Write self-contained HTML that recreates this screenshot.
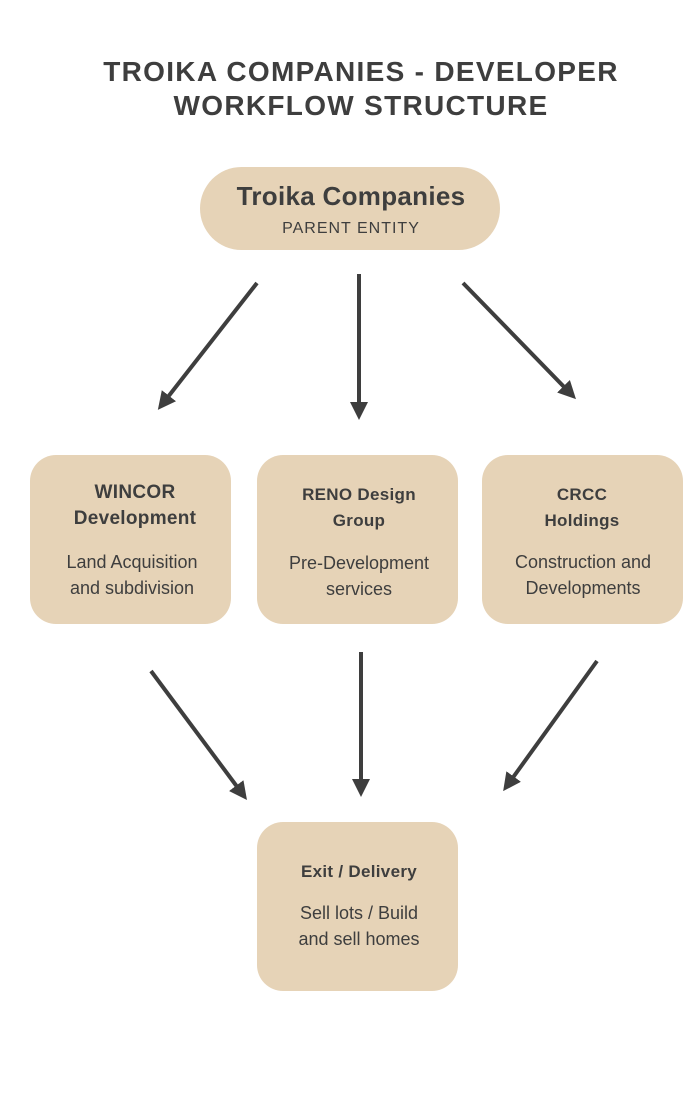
<!DOCTYPE html>
<html><head><style>body{margin:0;background:#fff}svg{display:block}</style></head>
<body>
<svg width="700" height="1100" viewBox="0 0 700 1100" xmlns="http://www.w3.org/2000/svg" font-family="Liberation Sans, sans-serif" fill="#3e3e3e">
<defs><marker id="a" markerWidth="4.5" markerHeight="4.5" refX="2" refY="2.25" orient="auto" markerUnits="strokeWidth"><path d="M0,0 L4.5,2.25 L0,4.5 z" fill="#3e3e3e"/></marker></defs>
<text x="361" y="81" font-size="28" font-weight="bold" text-anchor="middle" letter-spacing="1.3">TROIKA COMPANIES - DEVELOPER</text>
<text x="361" y="115" font-size="28" font-weight="bold" text-anchor="middle" letter-spacing="1.3">WORKFLOW STRUCTURE</text>
<rect x="200" y="167" width="300" height="83" rx="41.5" fill="#e6d3b7"/>
<text x="351" y="205" font-size="26" font-weight="bold" text-anchor="middle" letter-spacing="0.3">Troika Companies</text>
<text x="351" y="233" font-size="16" text-anchor="middle" letter-spacing="1">PARENT ENTITY</text>
<g stroke="#3e3e3e" stroke-width="4" marker-end="url(#a)">
<line x1="257" y1="283" x2="164" y2="402"/>
<line x1="359" y1="274" x2="359" y2="410"/>
<line x1="463" y1="283" x2="569" y2="392"/>
<line x1="151" y1="671" x2="241" y2="792"/>
<line x1="361" y1="652" x2="361" y2="787"/>
<line x1="597" y1="661" x2="509" y2="783"/>
</g>
<g fill="#e6d3b7">
<rect x="30" y="455" width="201" height="169" rx="26"/>
<rect x="257" y="455" width="201" height="169" rx="26"/>
<rect x="482" y="455" width="201" height="169" rx="26"/>
<rect x="257" y="822" width="201" height="169" rx="26"/>
</g>
<g text-anchor="middle">
<text x="135" y="498" font-size="19" font-weight="bold" letter-spacing="0.3">WINCOR</text>
<text x="135" y="524" font-size="19" font-weight="bold" letter-spacing="0.3">Development</text>
<text x="132" y="568" font-size="18">Land Acquisition</text>
<text x="132" y="594" font-size="18">and subdivision</text>
<text x="359" y="500" font-size="17" font-weight="bold" letter-spacing="0.3">RENO Design</text>
<text x="359" y="526" font-size="17" font-weight="bold" letter-spacing="0.3">Group</text>
<text x="359" y="569" font-size="18">Pre-Development</text>
<text x="359" y="595" font-size="18">services</text>
<text x="582" y="500" font-size="17" font-weight="bold" letter-spacing="0.3">CRCC</text>
<text x="582" y="526" font-size="17" font-weight="bold" letter-spacing="0.3">Holdings</text>
<text x="583" y="568" font-size="18">Construction and</text>
<text x="583" y="594" font-size="18">Developments</text>
<text x="359" y="877" font-size="17" font-weight="bold" letter-spacing="0.3">Exit / Delivery</text>
<text x="359" y="919" font-size="18">Sell lots / Build</text>
<text x="359" y="945" font-size="18">and sell homes</text>
</g>
</svg>
</body></html>
